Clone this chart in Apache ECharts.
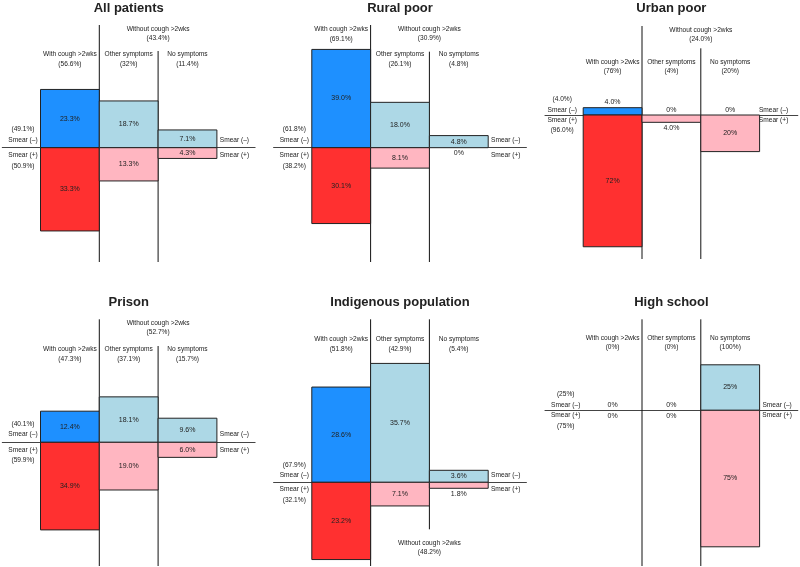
<!DOCTYPE html>
<html>
<head>
<meta charset="utf-8">
<script src="https://cdn.jsdelivr.net/npm/echarts@6/dist/echarts.min.js"></script>
<style>
  html, body { margin: 0; padding: 0; background: #fff; }
  #chart { width: 800px; height: 567px; }
</style>
</head>
<body>
<div id="chart"></div>
<script>
// Datos de cada panel (los textos conservan la precisión que se imprime)
const panelTitles = ['All patients', 'Rural poor', 'Urban poor', 'Prison', 'Indigenous population', 'High school'];
const columnNames = ['With cough >2wks', 'Other symptoms', 'No symptoms'];
const groupName = 'Without cough >2wks';

const columnShare = [
    ['56.6', '32', '11.4'],
    ['69.1', '26.1', '4.8'],
    ['76', '4', '20'],
    ['47.3', '37.1', '15.7'],
    ['51.8', '42.9', '5.4'],
    ['0', '0', '100']
];
const withoutCoughShare = ['43.4', '30.9', '24.0', '52.7', '48.2', null];

// Smear (-) hacia arriba, Smear (+) hacia abajo
const smearNeg = [
    ['23.3', '18.7', '7.1'],
    ['39.0', '18.0', '4.8'],
    ['4.0', '0', '0'],
    ['12.4', '18.1', '9.6'],
    ['28.6', '35.7', '3.6'],
    ['0', '0', '25']
];
const smearPos = [
    ['33.3', '13.3', '4.3'],
    ['30.1', '8.1', '0'],
    ['72', '4.0', '20'],
    ['34.9', '19.0', '6.0'],
    ['23.2', '7.1', '1.8'],
    ['0', '0', '75']
];
const smearNegTotal = ['49.1', '61.8', '4.0', '40.1', '67.9', '25'];
const smearPosTotal = ['50.9', '38.2', '96.0', '59.9', '32.1', '75'];

// Posiciones de cada panel (pixeles)
const COL_W = 58.8;
const layout = [
    { left: 40.5, base: 147.7, scale: 2.5, top: 18, bottom: 262, titleY: 8, lineTop: [25, 51], lineBottom: [262, 262], headY: [54, 54, 54], withoutY: 29, gap: 7.8, dx: 0 },
    { left: 311.8, base: 147.7, scale: 2.52, top: 18, bottom: 262, titleY: 8, lineTop: [25, 51.7], lineBottom: [262, 262], headY: [29, 54, 54], withoutY: 29, gap: 7.8, dx: 0 },
    { left: 583.2, base: 115, scale: 1.83, top: 18, bottom: 259, titleY: 8, lineTop: [26, 48.3], lineBottom: [259, 259], headY: [61.7, 61.7, 61.7], withoutY: 30, gap: 5.2, dx: -3.5 },
    { left: 40.5, base: 442.3, scale: 2.51, top: 312, bottom: 566, titleY: 302, lineTop: [319.3, 346], lineBottom: [566, 566], headY: [349, 349, 349], withoutY: 323.3, gap: 7.8, dx: 0 },
    { left: 311.8, base: 482.3, scale: 3.33, top: 312, bottom: 566, titleY: 302, lineTop: [319.3, 319.3], lineBottom: [566, 529.3], headY: [339, 339, 339], withoutY: 542.7, gap: 7.2, dx: 0 },
    { left: 583.2, base: 410.3, scale: 1.82, top: 312, bottom: 566, titleY: 302, lineTop: [319.3, 319.3], lineBottom: [566, 566], headY: [337.7, 337.7, 337.7], withoutY: null, gap: 5.3, dx: 0 }
];

const FONT = '"Liberation Sans", Arial, Helvetica, sans-serif';
const TEXT_COLOR = '#222';
const colores = {
    neg: ['#1E90FF', '#ADD8E6', '#ADD8E6'],
    pos: ['#FF3030', '#FFB6C1', '#FFB6C1']
};

const txt = (x, y, text, size, weight) => ({
    type: 'text',
    silent: true,
    style: {
        x: x, y: y, text: text,
        align: 'center', verticalAlign: 'middle',
        fontSize: size, fontFamily: FONT, fontWeight: weight || 'normal',
        fill: TEXT_COLOR
    }
});

const grids = [], xAxes = [], yAxes = [], series = [];

layout.forEach((L, p) => {
    grids.push({
        left: L.left - 0.65 * COL_W,
        width: 4.3 * COL_W,
        top: L.top,
        height: L.bottom - L.top
    });
    xAxes.push({
        gridIndex: p, type: 'value', min: -0.65, max: 3.65,
        axisLine: { show: true, onZero: true, lineStyle: { color: '#444', width: 1 } },
        axisTick: { show: false }, axisLabel: { show: false }, splitLine: { show: false }
    });
    yAxes.push({
        gridIndex: p, type: 'value', show: false,
        max: (L.base - L.top) / L.scale,
        min: (L.base - L.bottom) / L.scale,
        splitLine: { show: false }
    });

    // Decoración: título, líneas verticales, encabezados, etiquetas de smear
    series.push({
        type: 'custom',
        coordinateSystem: 'cartesian2d',
        xAxisIndex: p, yAxisIndex: p,
        silent: true,
        data: [[0, 0]],
        renderItem: (params, api) => {
            const cx = (v) => api.coord([v, 0])[0];
            const children = [];
            children.push(txt(cx(1.5), L.titleY, panelTitles[p], 13, 'bold'));
            [1, 2].forEach((xv, i) => {
                children.push({
                    type: 'line', silent: true,
                    shape: { x1: cx(xv), y1: L.lineTop[i], x2: cx(xv), y2: L.lineBottom[i] },
                    style: { stroke: '#111', lineWidth: 1 }
                });
            });
            columnNames.forEach((name, c) => {
                const y = L.headY[c];
                children.push(txt(cx(c + 0.5), y, name, 6.6));
                children.push(txt(cx(c + 0.5), y + 9.8, '(' + columnShare[p][c] + '%)', 6.6));
            });
            if (withoutCoughShare[p] !== null) {
                children.push(txt(cx(2), L.withoutY, groupName, 6.6));
                children.push(txt(cx(2), L.withoutY + 9.3, '(' + withoutCoughShare[p] + '%)', 6.6));
            }
            const xl = cx(0) - 17.5 + L.dx;
            const xr = cx(3) + 17.5 + L.dx;
            children.push(txt(xl, L.base - L.gap - 10.4, '(' + smearNegTotal[p] + '%)', 6.6));
            children.push(txt(xl, L.base - L.gap, 'Smear (\u2013)', 6.6));
            children.push(txt(xl, L.base + L.gap, 'Smear (+)', 6.6));
            children.push(txt(xl, L.base + L.gap + 10.4, '(' + smearPosTotal[p] + '%)', 6.6));
            children.push(txt(xr, L.base - L.gap, 'Smear (\u2013)', 6.6));
            children.push(txt(xr, L.base + L.gap, 'Smear (+)', 6.6));
            return { type: 'group', children: children };
        }
    });

    // Barras: [columna, valor con signo, tipo (0 = smear -, 1 = smear +)]
    const items = [];
    for (let c = 0; c < 3; c++) {
        items.push({ value: [c, Number(smearNeg[p][c]), 0], label: smearNeg[p][c] + '%' });
        items.push({ value: [c, -Number(smearPos[p][c]), 1], label: smearPos[p][c] + '%' });
    }
    series.push({
        type: 'custom',
        coordinateSystem: 'cartesian2d',
        xAxisIndex: p, yAxisIndex: p,
        silent: true,
        data: items.map(d => d.value),
        renderItem: (params, api) => {
            const col = api.value(0), v = api.value(1), kind = api.value(2);
            const a = api.coord([col, 0]);
            const b = api.coord([col + 1, v]);
            const x = a[0], w = b[0] - a[0];
            const yTop = Math.min(a[1], b[1]);
            const h = Math.abs(b[1] - a[1]);
            const children = [];
            if (v !== 0) {
                children.push({
                    type: 'rect',
                    shape: { x: x, y: yTop, width: w, height: h },
                    style: {
                        fill: kind === 0 ? colores.neg[col] : colores.pos[col],
                        stroke: '#222', lineWidth: 1
                    }
                });
            }
            let ly;
            if (h >= 9) ly = yTop + h / 2;
            else if (kind === 0) ly = yTop - 5.3;
            else ly = yTop + h + 5.8;
            children.push(txt(x + w / 2, ly, items[params.dataIndex].label, 7));
            return { type: 'group', children: children };
        }
    });
});

const chart = echarts.init(document.getElementById('chart'));
chart.setOption({
    animation: false,
    backgroundColor: '#fff',
    grid: grids,
    xAxis: xAxes,
    yAxis: yAxes,
    series: series
});
</script>
</body>
</html>
